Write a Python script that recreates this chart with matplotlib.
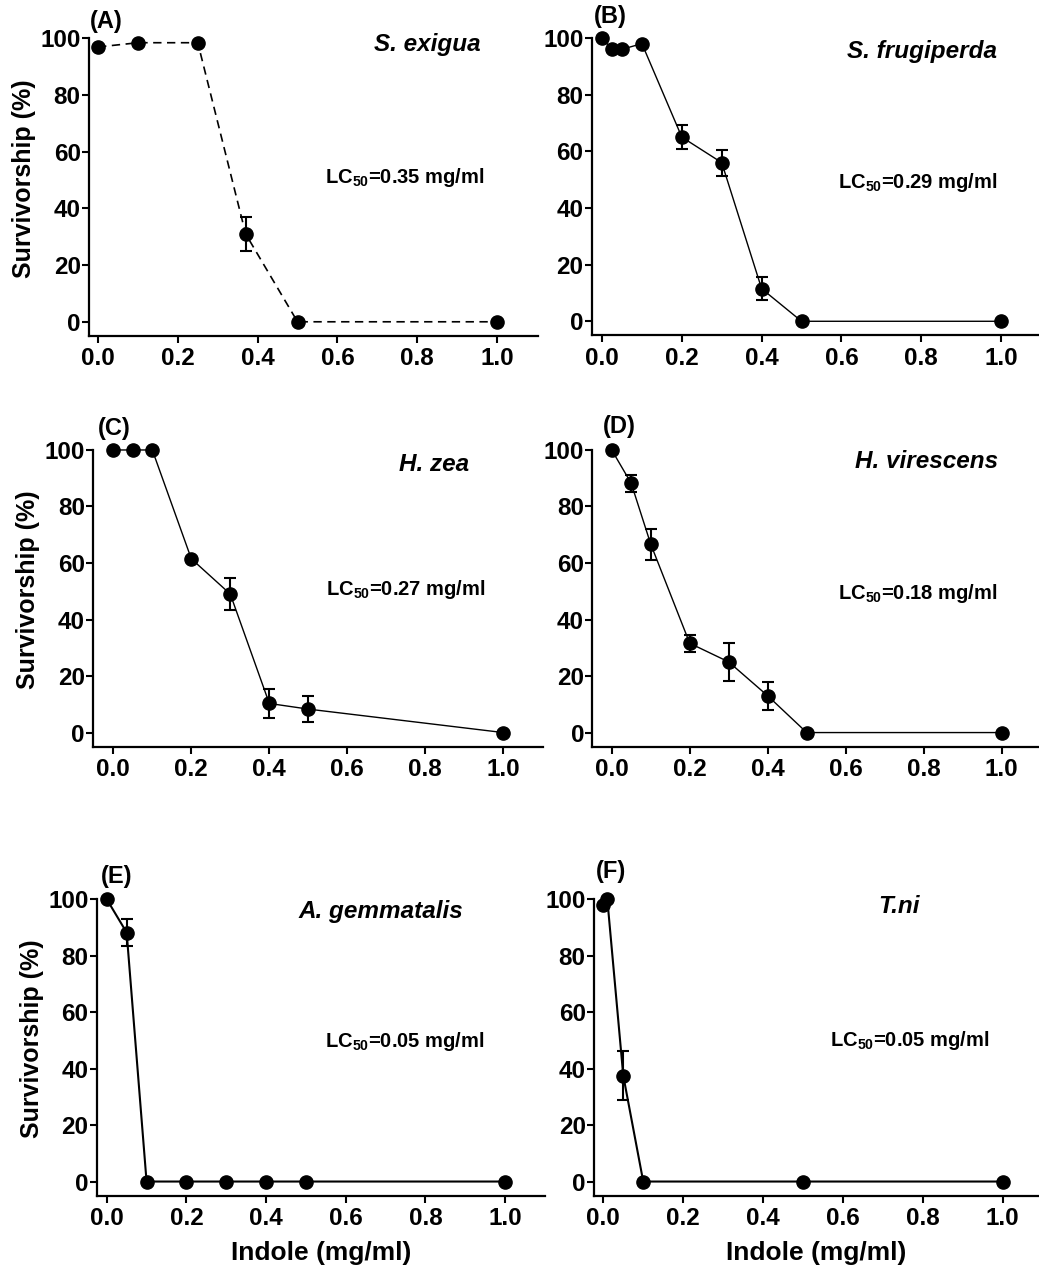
import numpy as np
import matplotlib
matplotlib.use("Agg")
import matplotlib.pyplot as plt

plt.rcParams["font.family"] = ["Liberation Sans", "DejaVu Sans"]
plt.rcParams["font.weight"] = "bold"
plt.rcParams["mathtext.fontset"] = "custom"
plt.rcParams["mathtext.rm"] = "Liberation Sans:bold"
plt.rcParams["mathtext.it"] = "Liberation Sans:bold:italic"
plt.rcParams["mathtext.bf"] = "Liberation Sans:bold"

# Indole concentration (mg/ml), mean survivorship (%) and SEM per species
conc_A = [0.0, 0.1, 0.25, 0.37, 0.5, 1.0]
surv_A = [97, 98.5, 98.5, 31, 0, 0]
sem_A = [0, 0, 0, 5.9, 0, 0]

conc_B = [0.0, 0.025, 0.05, 0.1, 0.2, 0.3, 0.4, 0.5, 1.0]
surv_B = [100, 96, 96, 98, 65, 56, 11.5, 0, 0]
sem_B = [0, 0, 0, 0, 4.3, 4.6, 4.1, 0, 0]

conc_C = [0.0, 0.05, 0.1, 0.2, 0.3, 0.4, 0.5, 1.0]
surv_C = [100, 100, 100, 61.5, 49, 10.3, 8.3, 0]
sem_C = [0, 0, 0, 0, 5.7, 5.2, 4.7, 0]

conc_D = [0.0, 0.05, 0.1, 0.2, 0.3, 0.4, 0.5, 1.0]
surv_D = [100, 88.2, 66.7, 31.6, 25, 13, 0, 0]
sem_D = [0, 3, 5.5, 3, 6.7, 4.9, 0, 0]

conc_E = [0.0, 0.05, 0.1, 0.2, 0.3, 0.4, 0.5, 1.0]
surv_E = [100, 88.2, 0, 0, 0, 0, 0, 0]
sem_E = [0, 4.8, 0, 0, 0, 0, 0, 0]

conc_F = [0.0, 0.01, 0.05, 0.1, 0.5, 1.0]
surv_F = [98, 100, 37.5, 0, 0, 0]
sem_F = [0, 0, 8.8, 0, 0, 0]

panel_tags = ["(A)", "(B)", "(C)", "(D)", "(E)", "(F)"]
species = ["S. exigua", "S. frugiperda", "H. zea", "H. virescens",
           "A. gemmatalis", "T.ni"]
lc50 = ["0.35", "0.29", "0.27", "0.18", "0.05", "0.05"]

x_ticks = [0.0, 0.2, 0.4, 0.6, 0.8, 1.0]
y_ticks = [0, 20, 40, 60, 80, 100]

datasets = [
    (conc_A, surv_A, sem_A),
    (conc_B, surv_B, sem_B),
    (conc_C, surv_C, sem_C),
    (conc_D, surv_D, sem_D),
    (conc_E, surv_E, sem_E),
    (conc_F, surv_F, sem_F),
]

# axes rectangles [left, bottom, width, height] and x limits
rects = [
    [0.0857, 0.7363, 0.4321, 0.2335],
    [0.5695, 0.7367, 0.4305, 0.2335],
    [0.0898, 0.4139, 0.4328, 0.2329],
    [0.5701, 0.4139, 0.4299, 0.2329],
    [0.0931, 0.0615, 0.4315, 0.2327],
    [0.5717, 0.0615, 0.4283, 0.2327],
]
xlims = [(-0.0226, 1.1028), (-0.0258, 1.095), (-0.0513, 1.1018),
         (-0.0497, 1.0956), (-0.0251, 1.1004), (-0.0233, 1.0911)]
line_styles = [(0, (5, 3.3)), "-", "-", "-", "-", "-"]
line_widths = [1.2, 1.0, 1.0, 1.0, 1.5, 1.5]
# text anchors: species name (right edge, centre y), LC50 (left edge, centre y)
species_pos = [(0.96, 97.7), (0.989, 95.3), (0.913, 94.7), (0.991, 95.9),
               (0.895, 95.6), (0.793, 97.5)]
lc_pos = [(0.569, 50.8), (0.592, 49.0), (0.545, 50.5), (0.581, 49.3),
          (0.548, 49.6), (0.568, 50.1)]
# panel tag positions in figure pixels (left edge, centre y from top)
tag_px = [(90, 21.7), (594, 16.7), (98.3, 428), (602.7, 426.7),
          (101, 876.7), (596, 871.7)]

W, H = 1039, 1274
fig = plt.figure(figsize=(W / 100, H / 100), dpi=100)

for i, (conc, surv, sem) in enumerate(datasets):
    ax = fig.add_axes(rects[i])
    x = np.asarray(conc, dtype=float)
    y = np.asarray(surv, dtype=float)
    e = np.asarray(sem, dtype=float)

    ax.plot(x, y, color="black", linestyle=line_styles[i], lw=line_widths[i],
            marker="o", markersize=9.5, markerfacecolor="black",
            markeredgecolor="black", clip_on=False, zorder=3)
    m = e > 0
    ax.errorbar(x[m], y[m], yerr=e[m], fmt="none", ecolor="black",
                elinewidth=1.5, capsize=4.5, capthick=1.5, zorder=2,
                clip_on=False)

    ax.set_xlim(*xlims[i])
    ax.set_ylim(-5, 100)
    ax.set_xticks(x_ticks)
    ax.set_xticklabels([f"{v:.1f}" for v in x_ticks])
    ax.set_yticks(y_ticks)
    ax.spines["top"].set_visible(False)
    ax.spines["right"].set_visible(False)
    for s in ("left", "bottom"):
        ax.spines[s].set_linewidth(1.6)
    ax.tick_params(axis="both", direction="out", length=5, width=1.5,
                   labelsize=17.5)
    ax.tick_params(axis="y", pad=1)
    ax.tick_params(axis="x", pad=3)
    for lab in ax.get_xticklabels() + ax.get_yticklabels():
        lab.set_fontweight("bold")

    if i % 2 == 0:
        ax.set_ylabel("Survivorship (%)", fontsize=18, fontweight="bold",
                      labelpad=3)
        ax.yaxis.label.set_y(0.53)
    if i >= 4:
        ax.set_xlabel("Indole (mg/ml)", fontsize=19, fontweight="bold",
                      labelpad=8)

    sx, sy = species_pos[i]
    ax.text(sx, sy, species[i], ha="right", va="center", fontsize=17.5,
            fontweight="bold", fontstyle="italic")
    lx, ly = lc_pos[i]
    ax.text(lx, ly, "LC$_{50}$=" + lc50[i] + " mg/ml", ha="left",
            va="center", fontsize=14.5, fontweight="bold")

    tx, ty = tag_px[i]
    fig.text(tx / W, 1 - ty / H, panel_tags[i], ha="left", va="center",
             fontsize=17, fontweight="bold")

fig.savefig("out.png", dpi=100, facecolor="white")
